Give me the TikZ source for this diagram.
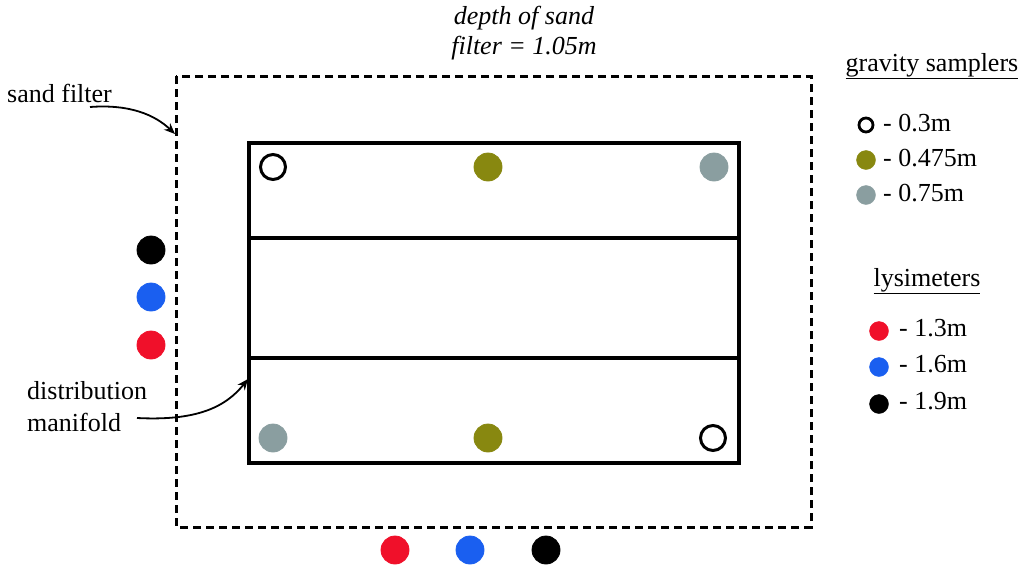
\documentclass[tikz,border=0pt]{standalone}
\usepackage{fontspec}
\setmainfont{Liberation Serif}
\usetikzlibrary{arrows.meta}
\definecolor{olivedot}{RGB}{136,136,16}
\definecolor{greydot}{RGB}{138,158,160}
\definecolor{reddot}{RGB}{240,16,42}
\definecolor{bluedot}{RGB}{26,95,240}
\tikzset{
  lbl/.style={inner sep=0pt, font=\fontsize{26}{32}\selectfont},
  dot/.style={circle, draw=#1, fill=#1, line width=0.8pt, minimum size=28pt, inner sep=0pt},
  hollow/.style={circle, draw=black, fill=white, line width=3pt, minimum size=25pt, inner sep=0pt},
  keydot/.style={circle, draw=#1, fill=#1, minimum size=19pt, inner sep=0pt},
  keyhollow/.style={circle, draw=black, fill=white, line width=2.8pt, minimum size=14pt, inner sep=0pt},
  pointer/.style={-{Stealth[length=11pt,width=9pt]}, line width=1.8pt},
  filterbox/.style={draw, line width=3pt, dash pattern=on 8pt off 5pt},
  bedbox/.style={draw, line width=3.2pt}
}
\begin{document}
\begin{tikzpicture}[x=1pt,y=-1pt]
\useasboundingbox (0,0) rectangle (1026,568);

% sand filter outline and the bed with its manifold
\draw[filterbox] (176,76) rectangle (811,527);
\draw[bedbox] (249,143) rectangle (739,463);
\draw[bedbox] (249,238) -- (739,238);
\draw[bedbox] (249,358) -- (739,358);

% gravity samplers inside the bed
\node[hollow] (g1) at (273,167) {};
\node[dot=olivedot] (g2) at (488,167) {};
\node[dot=greydot] (g3) at (714,167) {};
\node[dot=greydot] (g4) at (273,438) {};
\node[dot=olivedot] (g5) at (488,438) {};
\node[hollow] (g6) at (713,438) {};

% lysimeters outside the filter
\node[dot=black] (l1) at (151,250) {};
\node[dot=bluedot] (l2) at (151,297) {};
\node[dot=reddot] (l3) at (151,345) {};
\node[dot=reddot] (l4) at (395,550) {};
\node[dot=bluedot] (l5) at (470,550) {};
\node[dot=black] (l6) at (546,550) {};

% title
\node[lbl, font=\fontsize{26}{30}\selectfont\itshape, align=center] (depth) at (524,33)
  {depth of sand\\filter = 1.05m};

% callouts
\node[lbl, anchor=west] (sf) at (7,93) {sand filter};
\coordinate (sfstart) at (90,107);
\coordinate (sfend) at (175,134);
\draw[pointer] (sfstart) .. controls (130,104) and (155,115) .. (sfend);

\node[lbl, anchor=west, align=left, font=\fontsize{26}{32}\selectfont] (dm) at (27,407)
  {distribution\\manifold};
\coordinate (dmstart) at (137,418);
\coordinate (dmend) at (248,379);
\draw[pointer] (dmstart) .. controls (195,421) and (225,408) .. (dmend);

% legend: gravity samplers
\node[lbl] (gs) at (932,66) {\underline{gravity samplers}};
\node[keyhollow] (k1) at (866,125) {};
\node[keydot=olivedot] (k2) at (866,160) {};
\node[keydot=greydot] (k3) at (866,195) {};
\node[lbl, anchor=west] (t1) at (883,123) {- 0.3m};
\node[lbl, anchor=west] (t2) at (883,158) {- 0.475m};
\node[lbl, anchor=west] (t3) at (883,193) {- 0.75m};

% legend: lysimeters
\node[lbl] (ly) at (927,281) {\underline{lysimeters}};
\node[keydot=reddot] (k4) at (879,331) {};
\node[keydot=bluedot] (k5) at (879,367) {};
\node[keydot=black] (k6) at (879,404) {};
\node[lbl, anchor=west] (t4) at (899,328) {- 1.3m};
\node[lbl, anchor=west] (t5) at (899,364) {- 1.6m};
\node[lbl, anchor=west] (t6) at (899,401) {- 1.9m};
\end{tikzpicture}
\end{document}
